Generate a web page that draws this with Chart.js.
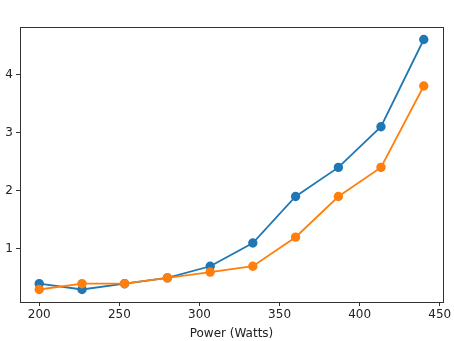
<!DOCTYPE html>
<html lang="en">
<head>
    <meta charset="UTF-8">
    <title>Power chart</title>
    <script src="https://cdn.jsdelivr.net/npm/chart.js"></script>
    <style>
        html, body { margin: 0; padding: 0; background: #fff; }
        #wrap { width: 454px; height: 341px; }
    </style>
</head>
<body>
    <div id="wrap"><canvas id="myChart" width="454" height="341"></canvas></div>

    <script>
        // values
        const powerWatts = [200, 226.7, 253.3, 280, 306.7, 333.3, 360, 386.7, 413.3, 440];
        const seriesBlue = [0.4, 0.3, 0.4, 0.5, 0.7, 1.1, 1.9, 2.4, 3.1, 4.6];
        const seriesOrange = [0.3, 0.4, 0.4, 0.5, 0.6, 0.7, 1.2, 1.9, 2.4, 3.8];
        const xTicks = [200, 250, 300, 350, 400, 450];
        const yTicks = [1, 2, 3, 4];

        const toPoints = ys => ys.map((y, i) => ({ x: powerWatts[i], y: y }));

        // draws the box around the plot area
        const frame = {
            id: 'frame',
            afterDraw(chart) {
                const a = chart.chartArea;
                const c = chart.ctx;
                c.save();
                c.strokeStyle = '#333';
                c.lineWidth = 1;
                c.strokeRect(a.left + 0.5, a.top + 0.5, a.right - a.left, a.bottom - a.top);
                c.restore();
            }
        };

        const tickFont = { family: 'DejaVu Sans', size: 12 };

        new Chart(document.getElementById('myChart').getContext('2d'), {
            type: 'line',
            data: {
                datasets: [{
                    data: toPoints(seriesBlue),
                    order: 1,
                    borderColor: '#1f77b4',
                    backgroundColor: '#1f77b4',
                    borderWidth: 1.8,
                    pointRadius: 3.8,
                    pointHoverRadius: 3.8
                }, {
                    data: toPoints(seriesOrange),
                    order: 0, // orange sits on top, as in the reference
                    borderColor: '#ff7f0e',
                    backgroundColor: '#ff7f0e',
                    borderWidth: 1.8,
                    pointRadius: 3.8,
                    pointHoverRadius: 3.8
                }]
            },
            options: {
                responsive: false,
                animation: false,
                layout: { padding: { left: 0, right: 11, top: 27, bottom: 0 } },
                plugins: { legend: { display: false }, tooltip: { enabled: false } },
                scales: {
                    x: {
                        type: 'linear',
                        min: 188,
                        max: 452,
                        afterBuildTicks: s => { s.ticks = xTicks.map(v => ({ value: v })); },
                        afterFit: s => { s.height = 39; },
                        grid: { drawOnChartArea: false, tickLength: 4, color: '#333' },
                        border: { display: false },
                        ticks: { color: '#222', font: tickFont, padding: 2, maxRotation: 0 },
                        title: { display: true, text: 'Power (Watts)', color: '#222', font: tickFont, padding: { top: 0, bottom: 0 } }
                    },
                    y: {
                        min: 0.085,
                        max: 4.815,
                        afterBuildTicks: s => { s.ticks = yTicks.map(v => ({ value: v })); },
                        afterFit: s => { s.width = 20; },
                        grid: { drawOnChartArea: false, tickLength: 4, color: '#333' },
                        border: { display: false },
                        ticks: { color: '#222', font: tickFont, padding: 3 }
                    }
                }
            },
            plugins: [frame]
        });
    </script>
</body>
</html>
